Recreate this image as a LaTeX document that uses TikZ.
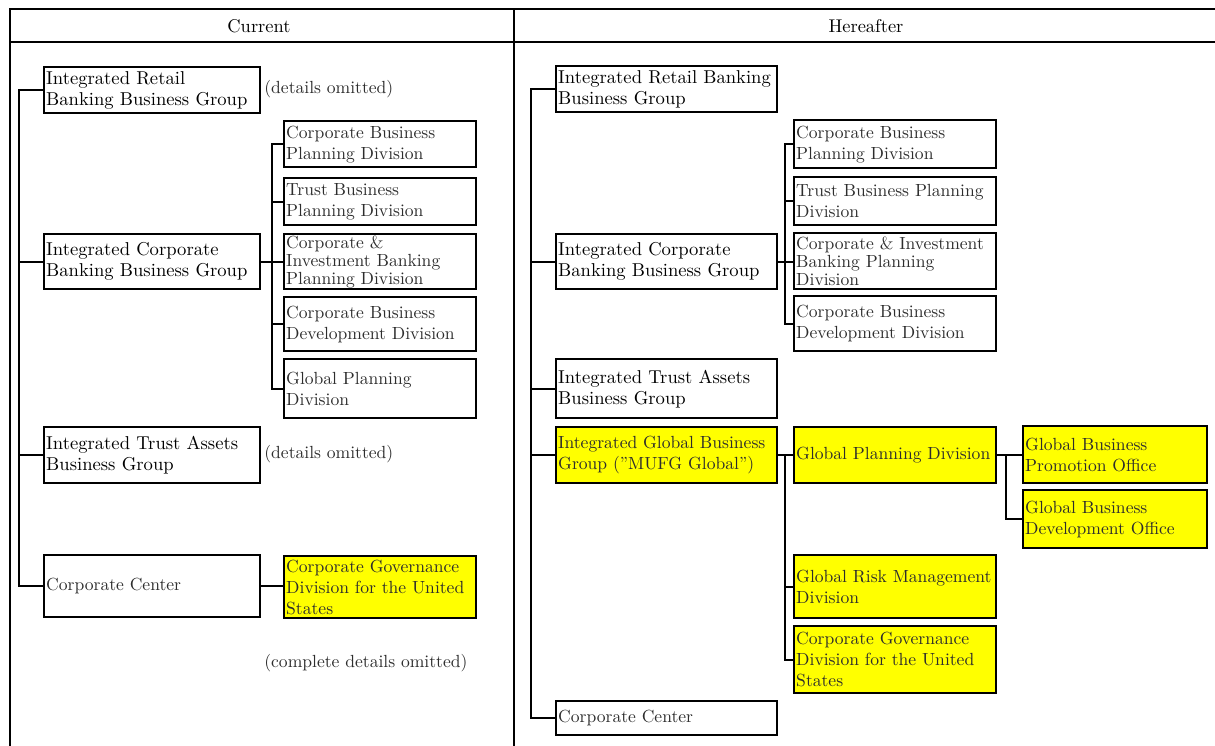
\documentclass[tikz,border=0pt]{standalone}
\usepackage{fontspec}
\usetikzlibrary{positioning}

\definecolor{divgray}{RGB}{45,45,45}
\definecolor{hiyellow}{RGB}{255,255,0}
\newcommand\grpfont{\fontsize{10.6}{11.9}\selectfont}
\newcommand\divfont{\fontsize{10}{11.9}\selectfont}
\newcommand\tightfont{\fontsize{10}{10.3}\selectfont}

\begin{document}
\begin{tikzpicture}[
  x=0.02cm, y=-0.02cm,
  frame/.style={line width=1.3pt, draw=black},
  link/.style={line width=1pt, draw=black},
  box/.style={
    draw=black,
    line width=1.4pt,
    anchor=north west,
    align=left,
    inner xsep=0.04cm,
    inner ysep=0pt
  },
  lgrp/.style={box, text width=4.24cm, font=\grpfont},
  rgrp/.style={box, text width=4.34cm, font=\grpfont},
  ldiv/.style={box, text width=3.76cm, font=\divfont, text=divgray},
  rdiv/.style={box, text width=3.96cm, font=\divfont, text=divgray},
  office/.style={box, text width=3.60cm, font=\divfont, text=divgray},
  hot/.style={fill=hiyellow},
  note/.style={font=\divfont, text=divgray, anchor=west, inner xsep=0pt},
  head/.style={font=\fontsize{10.5}{12}\selectfont}
]
  \useasboundingbox (0,0) rectangle (1215,746);

  \draw[frame] (10,746) -- (10,9) -- (1215,9);
  \draw[frame] (10,42) -- (1215,42);
  \draw[frame] (514,9) -- (514,746);
  \node[head] (hcur) at (259,26) {Current};
  \node[head] (hnext) at (866,26) {Hereafter};

  \node[lgrp, minimum height=0.92cm] (lretail) at (43,66) {Integrated Retail\\Banking Business Group};
  \node[lgrp, minimum height=1.1cm] (lcorp) at (43,233) {Integrated Corporate\\Banking Business Group};
  \node[lgrp, minimum height=1.12cm] (ltrust) at (43,426) {Integrated Trust Assets\\Business Group};
  \node[lgrp, font=\divfont, text=divgray, minimum height=1.24cm] (lcenter) at (43,554) {Corporate Center};

  \node[ldiv, minimum height=0.92cm] (lcbp) at (283,120) {Corporate Business\\Planning Division};
  \node[ldiv, minimum height=0.94cm] (ltbp) at (283,177) {Trust Business\\Planning Division};
  \node[ldiv, font=\tightfont, minimum height=1.1cm] (lcib) at (283,233) {Corporate \&\\Investment Banking\\Planning Division};
  \node[ldiv, minimum height=1.08cm] (lcbd) at (283,296) {Corporate Business\\Development Division};
  \node[ldiv, minimum height=1.18cm] (lgpd) at (283,358) {Global Planning\\Division};
  \node[ldiv, hot, minimum height=1.24cm] (lcgd) at (283,555) {Corporate Governance\\Division for the United\\States};

  \node[note] (lnote1) at (264,89) {(details omitted)};
  \node[note] (lnote2) at (264,454) {(details omitted)};
  \node[note] (lnote3) at (264,663) {(complete details omitted)};

  \draw[link] (lretail.west) -- ++(-24,0) |- (lcenter.west);
  \draw[link] (lcorp.west) -- ++(-24,0);
  \draw[link] (ltrust.west) -- ++(-24,0);
  \draw[link] (lcbp.west) -- ++(-11,0) |- (lgpd.west);
  \draw[link] (ltbp.west) -- ++(-11,0);
  \draw[link] (lcbd.west) -- ++(-11,0);
  \draw[link] (lcorp.east) -- (lcorp.east -| lcib.west);
  \draw[link] (lcenter.east) -- (lcenter.east -| lcgd.west);

  \node[rgrp, minimum height=0.92cm] (rretail) at (555,65) {Integrated Retail Banking\\Business Group};
  \node[rgrp, minimum height=1.1cm] (rcorp) at (555,233) {Integrated Corporate\\Banking Business Group};
  \node[rgrp, minimum height=1.18cm] (rtrust) at (555,358) {Integrated Trust Assets\\Business Group};
  \node[rgrp, hot, font=\divfont, text=divgray, minimum height=1.12cm] (rglobal) at (555,426) {Integrated Global Business\\Group (''MUFG Global'')};
  \node[rgrp, font=\divfont, text=divgray, minimum height=0.68cm] (rcenter) at (555,700) {Corporate Center};

  \node[rdiv, minimum height=0.96cm] (rcbp) at (793,119) {Corporate Business\\Planning Division};
  \node[rdiv, minimum height=0.96cm] (rtbp) at (793,176) {Trust Business Planning\\Division};
  \node[rdiv, font=\tightfont, minimum height=1.12cm] (rcib) at (793,232) {Corporate \& Investment\\Banking Planning\\Division};
  \node[rdiv, minimum height=1.1cm] (rcbd) at (793,295) {Corporate Business\\Development Division};
  \node[rdiv, hot, minimum height=1.12cm] (rgpd) at (793,426) {Global Planning Division};
  \node[rdiv, hot, minimum height=1.26cm] (rgrm) at (793,554) {Global Risk Management\\Division};
  \node[rdiv, hot, minimum height=1.34cm] (rcgd) at (793,625) {Corporate Governance\\Division for the United\\States};

  \node[office, hot, minimum height=1.14cm] (rgbpo) at (1022,425) {Global Business\\Promotion Office};
  \node[office, hot, minimum height=1.16cm] (rgbdo) at (1022,489) {Global Business\\Development Office};

  \draw[link] (rretail.west) -- ++(-24,0) |- (rcenter.west);
  \draw[link] (rcorp.west) -- ++(-24,0);
  \draw[link] (rtrust.west) -- ++(-24,0);
  \draw[link] (rglobal.west) -- ++(-24,0);
  \draw[link] (rcbp.west) -- ++(-8,0) |- (rcbd.west);
  \draw[link] (rtbp.west) -- ++(-8,0);
  \draw[link] (rcorp.east) -- (rcorp.east -| rcib.west);
  \draw[link] (rglobal.east) -- (rgpd.west);
  \draw[link] (rgpd.west) ++(-8,0) |- (rcgd.west);
  \draw[link] (rgrm.west) -- ++(-8,0);
  \draw[link] (rgpd.east) -- (rgpd.east -| rgbpo.west);
  \draw[link] (rgbpo.west) ++(-16,0) |- (rgbdo.west);
\end{tikzpicture}
\end{document}
